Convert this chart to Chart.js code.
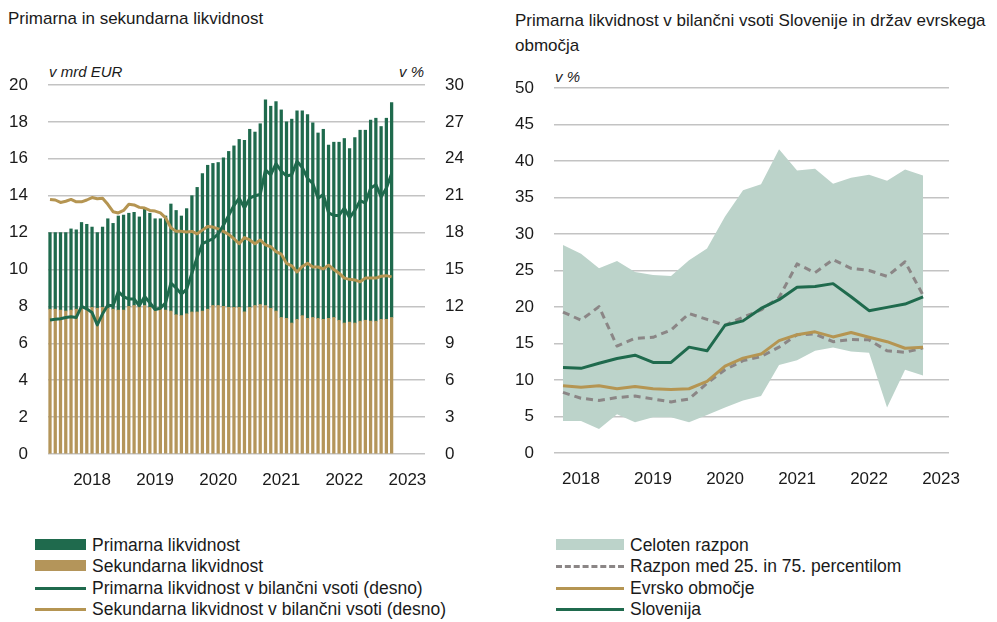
<!DOCTYPE html>
<html>
<head>
<meta charset="utf-8">
<script src="https://cdn.jsdelivr.net/npm/chart.js@4.4.1/dist/chart.umd.min.js"></script>
<style>
  html, body { margin: 0; padding: 0; background: #fff; width: 997px; height: 622px; overflow: hidden;
    font-family: "Liberation Sans", Arial, sans-serif; color: #1a1a1a; }
  .abs { position: absolute; white-space: nowrap; }
  .title { font-size: 17px; line-height: 25px; }
  .unit { font-size: 15px; font-style: italic; line-height: 18px; }
  .leg { font-size: 17.5px; line-height: 20px; height: 20px; }
  canvas { position: absolute; top: 0; }
  #liq { left: 0; }
  #cmp { left: 497px; }
</style>
</head>
<body>
<div class="abs title" style="left:8px;top:6px;">Primarna in sekundarna likvidnost</div>
<div class="abs title" style="left:515px;top:8px;">Primarna likvidnost v bilančni vsoti Slovenije in držav evrskega<br>območja</div>
<div class="abs unit" style="left:49px;top:63px;">v mrd EUR</div>
<div class="abs unit" style="left:399px;top:63px;">v %</div>
<div class="abs unit" style="left:555px;top:68px;">v %</div>

<canvas id="liq" width="480" height="500"></canvas>
<canvas id="cmp" width="500" height="500"></canvas>
<div id="legend"></div>

<script>
// ---- Monthly data, May 2017 - Oct 2022 ----
const months = [
  '2017-05','2017-06','2017-07','2017-08','2017-09','2017-10','2017-11','2017-12',
  '2018-01','2018-02','2018-03','2018-04','2018-05','2018-06','2018-07','2018-08','2018-09','2018-10','2018-11','2018-12',
  '2019-01','2019-02','2019-03','2019-04','2019-05','2019-06','2019-07','2019-08','2019-09','2019-10','2019-11','2019-12',
  '2020-01','2020-02','2020-03','2020-04','2020-05','2020-06','2020-07','2020-08','2020-09','2020-10','2020-11','2020-12',
  '2021-01','2021-02','2021-03','2021-04','2021-05','2021-06','2021-07','2021-08','2021-09','2021-10','2021-11','2021-12',
  '2022-01','2022-02','2022-03','2022-04','2022-05','2022-06','2022-07','2022-08','2022-09','2022-10'
];
// bn EUR
const primaryLiquidity = [
  4.15,4.15,4.2,4.25,4.4,4.3,4.65,4.55,4.35,4.1,4.35,4.85,4.65,5.1,5.15,5.05,5.05,4.85,5.3,5.1,
  4.9,4.85,5.1,5.8,5.65,5.4,5.7,6.3,6.75,7.45,7.8,7.7,7.75,8.05,8.45,8.75,9.1,9.3,9.65,9.4,
  9.8,11.15,10.95,11.35,11.25,10.65,11.05,11.3,11.1,11.05,10.55,10.05,10.3,9.4,9.5,9.65,10.0,9.4,10.05,10.35,
  10.3,10.9,11.0,10.45,10.9,11.65
];
const secondaryLiquidity = [
  7.85,7.85,7.8,7.75,7.8,7.85,7.9,7.9,7.95,7.9,7.95,7.9,7.85,7.8,7.8,8.0,8.05,8.0,8.05,7.95,
  7.85,7.9,7.8,7.75,7.55,7.5,7.6,7.7,7.7,7.75,7.85,8.05,8.05,8.0,7.95,7.95,7.95,7.7,7.95,8.05,
  8.1,8.05,7.9,7.75,7.4,7.35,7.1,7.3,7.5,7.35,7.4,7.35,7.3,7.35,7.4,7.25,7.1,7.15,7.1,7.2,
  7.25,7.2,7.2,7.3,7.3,7.4
];
// % of total assets (right axis)
const primaryShare = [
  10.9,10.95,11.0,11.1,11.15,11.1,12.0,11.8,11.5,10.5,11.4,12.1,12.05,13.2,12.8,12.6,12.6,12.05,12.8,12.3,
  11.75,11.85,12.3,13.9,13.5,13.0,13.4,14.7,16.0,17.1,17.3,17.5,17.9,18.6,19.4,20.2,20.8,20.0,20.8,21.0,
  21.1,23.1,22.7,23.6,23.0,22.6,22.7,23.8,23.3,22.4,22.0,20.8,21.1,19.6,19.4,19.4,20.0,19.2,19.8,20.6,
  20.4,21.6,21.9,20.9,21.6,22.8
];
const secondaryShare = [
  20.7,20.65,20.45,20.55,20.7,20.5,20.5,20.65,20.85,20.75,20.8,20.3,19.7,19.6,19.8,20.3,20.25,20.05,20.0,19.8,
  19.75,19.6,19.2,18.4,18.1,18.1,18.05,18.1,17.9,18.2,18.5,18.45,18.3,18.1,17.85,17.5,17.1,17.6,17.4,17.1,
  17.4,17.0,16.85,16.45,16.25,15.5,15.3,14.8,15.25,15.5,15.2,15.2,15.05,15.35,15.0,14.7,14.3,14.2,14.15,14.0,
  14.3,14.3,14.3,14.45,14.5,14.4
];

// ---- Quarterly data, Q4 2017 - Q4 2022 (% of total assets) ----
const quarters = [
  '2017Q4','2018Q1','2018Q2','2018Q3','2018Q4','2019Q1','2019Q2','2019Q3','2019Q4',
  '2020Q1','2020Q2','2020Q3','2020Q4','2021Q1','2021Q2','2021Q3','2021Q4',
  '2022Q1','2022Q2','2022Q3','2022Q4'
];
const rangeMax = [28.5,27.3,25.3,26.3,24.8,24.4,24.25,26.4,28.0,32.4,36.0,36.8,41.6,38.7,38.95,36.9,37.7,38.1,37.3,38.85,38.0];
const rangeMin = [4.4,4.4,3.3,5.3,4.2,4.9,4.9,4.2,5.2,6.25,7.2,7.8,12.05,12.7,14.0,14.45,13.9,13.75,6.25,11.4,10.6];
const pct75 = [19.3,18.2,20.05,14.65,15.7,15.85,16.85,19.1,18.3,17.5,18.6,19.6,21.3,25.9,24.7,26.5,25.3,25.0,24.2,26.2,21.6];
const pct25 = [8.3,7.5,7.2,7.6,7.8,7.4,7.0,7.4,9.55,11.4,12.65,13.2,14.5,16.2,16.3,15.25,15.55,15.5,14.0,13.8,14.4];
const euroArea = [9.2,9.0,9.2,8.8,9.1,8.8,8.7,8.8,9.8,11.9,13.0,13.55,15.4,16.2,16.6,15.9,16.5,15.85,15.25,14.35,14.5];
const slovenia = [11.7,11.6,12.3,12.95,13.4,12.4,12.4,14.5,14.0,17.5,18.1,19.8,21.0,22.7,22.8,23.2,21.4,19.5,19.95,20.4,21.4];

const yearLabels = ['2018','2019','2020','2021','2022','2023'];

// ---- Styling ----
const GREEN = '#1f6a4d';
const GOLD = '#b4955a';
const GOLD_LINE = '#b59552';
const RANGE_FILL = '#bcd3ca';
const DASH_GREY = '#8b8686';
const GRID = '#c3c3c3';
const TEXT = '#1a1a1a';
const FONT = '"Liberation Sans", Arial, sans-serif';

Chart.defaults.font.family = FONT;
Chart.defaults.color = TEXT;
Chart.defaults.animation = false;

// position on the monthly index of January of a given year
const monthPos = y => months.indexOf(y + '-01') >= 0 ? months.indexOf(y + '-01')
  : months.indexOf((y - 1) + '-01') + 12;
// position on the quarterly index of Q1 of a given year
const quarterPos = y => quarters.indexOf(y + 'Q1') >= 0 ? quarters.indexOf(y + 'Q1')
  : quarters.indexOf((y - 1) + 'Q1') + 4;

const pts = arr => arr.map((v, i) => ({ x: i, y: v }));

function yearAxis(posFn, min, max, height) {
  return {
    type: 'linear', min, max, offset: false,
    grid: { display: false }, border: { display: false },
    afterBuildTicks: s => { s.ticks = yearLabels.map(y => ({ value: posFn(+y) })); },
    afterFit: s => { s.height = height; },
    ticks: {
      autoSkip: false, maxRotation: 0, padding: 8,
      font: { size: 17 }, color: TEXT,
      callback: v => { const y = yearLabels.find(l => posFn(+l) === v); return y || ''; }
    }
  };
}

// ---- Left: primary and secondary liquidity ----
new Chart(document.getElementById('liq'), {
  type: 'bar',
  data: {
    datasets: [
      { type: 'line', label: 'Primarna likvidnost v bilančni vsoti (desno)', data: pts(primaryShare),
        yAxisID: 'y2', borderColor: GREEN, borderWidth: 3, pointRadius: 0, tension: 0,
        borderJoinStyle: 'round', order: 0 },
      { type: 'line', label: 'Sekundarna likvidnost v bilančni vsoti (desno)', data: pts(secondaryShare),
        yAxisID: 'y2', borderColor: GOLD_LINE, borderWidth: 3, pointRadius: 0, tension: 0,
        borderJoinStyle: 'round', order: 1 },
      { label: 'Sekundarna likvidnost', data: pts(secondaryLiquidity), yAxisID: 'y', stack: 'liq',
        backgroundColor: GOLD, barThickness: 2.6, order: 3 },
      { label: 'Primarna likvidnost', data: pts(primaryLiquidity), yAxisID: 'y', stack: 'liq',
        backgroundColor: GREEN, barThickness: 2.6, order: 3 }
    ]
  },
  options: {
    responsive: false,
    layout: { padding: { top: 85, left: 0, right: 0, bottom: 0 } },
    plugins: { legend: { display: false }, tooltip: { enabled: false } },
    scales: {
      x: Object.assign(yearAxis(monthPos, -0.38, 71.35, 46), { stacked: true }),
      y: {
        position: 'left', min: 0, max: 20, stacked: true,
        border: { display: false },
        grid: { color: GRID, lineWidth: 1.5, drawTicks: false },
        afterFit: s => { s.width = 48; },
        ticks: { stepSize: 2, padding: 20, font: { size: 17 }, color: TEXT }
      },
      y2: {
        position: 'right', min: 0, max: 30,
        border: { display: false },
        grid: { display: false, drawTicks: false },
        afterFit: s => { s.width = 55; },
        ticks: { stepSize: 3, padding: 20, font: { size: 17 }, color: TEXT }
      }
    }
  }
});

// ---- Right: Slovenia vs euro area countries ----
const lineDs = (label, data, color, extra) => Object.assign({
  label, data: pts(data), borderColor: color, borderWidth: 3, pointRadius: 0, tension: 0,
  fill: false, borderJoinStyle: 'round'
}, extra || {});

new Chart(document.getElementById('cmp'), {
  type: 'line',
  data: {
    datasets: [
      lineDs('Celoten razpon', rangeMax, 'rgba(0,0,0,0)',
        { borderWidth: 0, backgroundColor: RANGE_FILL, fill: '+1', order: 10 }),
      lineDs('Celoten razpon (spodaj)', rangeMin, 'rgba(0,0,0,0)', { borderWidth: 0, order: 11 }),
      lineDs('Razpon med 25. in 75. percentilom', pct75, DASH_GREY, { borderDash: [7, 5], order: 3 }),
      lineDs('Razpon med 25. in 75. percentilom (spodaj)', pct25, DASH_GREY, { borderDash: [7, 5], order: 3 }),
      lineDs('Evrsko območje', euroArea, GOLD_LINE, { order: 1 }),
      lineDs('Slovenija', slovenia, GREEN, { order: 0 })
    ]
  },
  options: {
    responsive: false,
    layout: { padding: { top: 88, left: 0, right: 48, bottom: 0 } },
    plugins: { legend: { display: false }, tooltip: { enabled: false } },
    scales: {
      x: yearAxis(quarterPos, -0.5, 21.44, 47),
      y: {
        min: 0, max: 50,
        border: { display: false },
        grid: { color: GRID, lineWidth: 1.5, drawTicks: false },
        afterFit: s => { s.width = 57; },
        ticks: { stepSize: 5, padding: 20, font: { size: 17 }, color: TEXT }
      }
    }
  }
});

// ---- Legend below both panels ----
const legendItems = [
  { x: 35, w: 51, row: 0, kind: 'box', color: GREEN, text: 'Primarna likvidnost' },
  { x: 35, w: 51, row: 1, kind: 'box', color: GOLD, text: 'Sekundarna likvidnost' },
  { x: 35, w: 51, row: 2, kind: 'line', color: GREEN, text: 'Primarna likvidnost v bilančni vsoti (desno)' },
  { x: 35, w: 51, row: 3, kind: 'line', color: GOLD_LINE, text: 'Sekundarna likvidnost v bilančni vsoti (desno)' },
  { x: 556, w: 68, row: 0, kind: 'box', color: RANGE_FILL, text: 'Celoten razpon' },
  { x: 556, w: 68, row: 1, kind: 'dash', color: DASH_GREY, text: 'Razpon med 25. in 75. percentilom' },
  { x: 556, w: 68, row: 2, kind: 'line', color: GOLD_LINE, text: 'Evrsko območje' },
  { x: 556, w: 68, row: 3, kind: 'line', color: GREEN, text: 'Slovenija' }
];
const rowY = [545, 566, 588, 609];
const legend = document.getElementById('legend');
legendItems.forEach(it => {
  const cy = rowY[it.row];
  const sw = document.createElement('div');
  sw.className = 'abs';
  sw.style.left = it.x + 'px';
  sw.style.width = it.w + 'px';
  if (it.kind === 'box') {
    sw.style.top = (cy - 6) + 'px'; sw.style.height = '11px'; sw.style.background = it.color;
  } else if (it.kind === 'line') {
    sw.style.top = (cy - 1.5) + 'px'; sw.style.height = '3px'; sw.style.background = it.color;
  } else {
    sw.style.top = (cy - 1.5) + 'px'; sw.style.height = '0';
    sw.style.borderTop = '3px dashed ' + it.color;
  }
  legend.appendChild(sw);
  const tx = document.createElement('div');
  tx.className = 'abs leg';
  tx.style.left = (it.x + it.w + 6) + 'px';
  tx.style.top = (cy - 10) + 'px';
  tx.textContent = it.text;
  legend.appendChild(tx);
});
</script>
</body>
</html>
